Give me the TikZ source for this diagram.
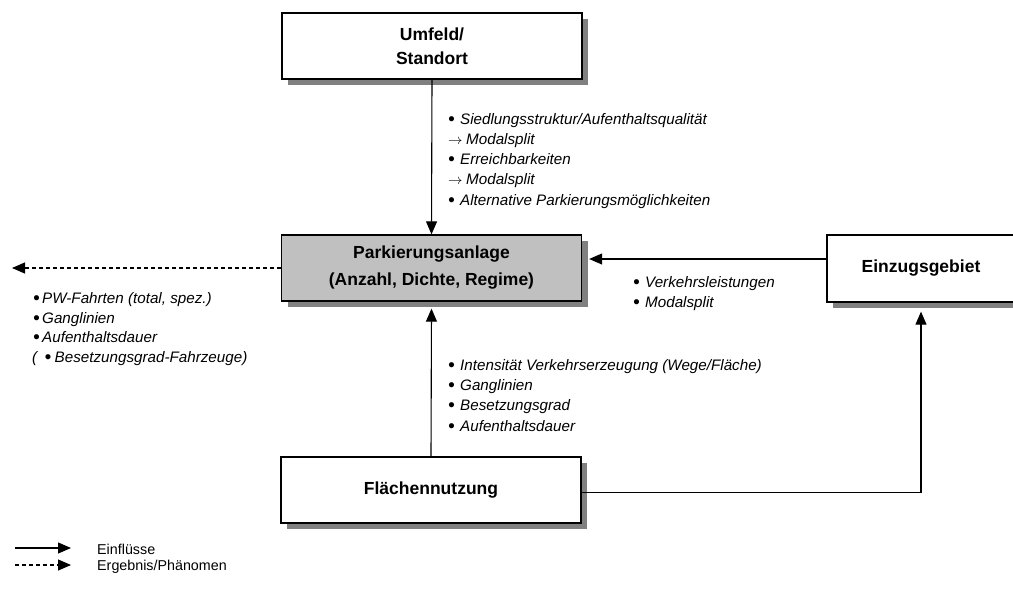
\documentclass[tikz,border=0pt]{standalone}
\usepackage{fontspec}
\setmainfont{Liberation Sans}
\usetikzlibrary{arrows.meta,shadows}
\definecolor{boxgray}{HTML}{C0C0C0}
\definecolor{shadowgray}{HTML}{808080}
\newcommand\bigbul{\raisebox{-0.08em}{\scalebox{1.25}{•}}}
\newcommand\bul{\makebox[12pt][l]{\bigbul}}
\newcommand\bulL{\makebox[9pt][l]{\bigbul}}
\newcommand\arr{\makebox[18pt][l]{$\rightarrow$}}
\tikzset{
  box/.style={draw=black, line width=1.3pt, fill=white, minimum width=300pt, minimum height=66pt,
    align=center, inner sep=0pt, font=\fontsize{17.5}{23.5}\selectfont\bfseries,
    drop shadow={shadow xshift=6pt, shadow yshift=-6pt, fill=shadowgray, opacity=1}},
  lbl/.style={anchor=base west, inner sep=0pt, font=\fontsize{15.2}{18}\selectfont\itshape},
  leg/.style={anchor=west, inner sep=0pt, font=\fontsize{14.3}{17}\selectfont},
  conn/.style={line width=1.1pt, -{Triangle[length=13pt,width=11pt]}},
  dconn/.style={conn, dash pattern=on 4pt off 3pt},
}
\begin{document}
\begin{tikzpicture}[x=1pt,y=-1pt]
\useasboundingbox (0,0) rectangle (1013,590);
\begin{scope}
\clip (0,0) rectangle (1013,590);
\node[box] (umfeld) at (432,46) {Umfeld/\\Standort};
\node[box, fill=boxgray, font=\fontsize{17.5}{27}\selectfont\bfseries] (park) at (431.5,268) {Parkierungsanlage\\(Anzahl, Dichte, Regime)};
\node[box, minimum width=188pt, minimum height=67pt] (einz) at (921,268.5) {Einzugsgebiet};
\node[box] (flaech) at (431,490) {Flächennutzung};
\end{scope}

% connectors
\draw[conn] (umfeld.south) -- (park.north);
\draw[conn] (flaech.north) -- ([yshift=-7pt]park.south);
\draw[conn] ([yshift=9.5pt]einz.west) -- ([xshift=7pt,yshift=9pt]park.east);
\draw[conn] ([yshift=-2.5pt]flaech.east) -| ([yshift=-9pt]einz.south);
\coordinate (dashend) at (12,268);
\draw[dconn] (park.west) -- (dashend);

% labels top
\node[lbl] (u1) at (448,124) {\bul Siedlungsstruktur/Aufenthaltsqualität};
\node[lbl] (u2) at (448,144.25) {\arr Modalsplit};
\node[lbl] (u3) at (448,164.5) {\bul Erreichbarkeiten};
\node[lbl] (u4) at (448,184.75) {\arr Modalsplit};
\node[lbl] (u5) at (448,205) {\bul Alternative Parkierungsmöglichkeiten};

% labels left
\node[lbl] (l1) at (33,303) {\bulL PW-Fahrten (total, spez.)};
\node[lbl] (l2) at (33,323) {\bulL Ganglinien};
\node[lbl] (l3) at (33,342.5) {\bulL Aufenthaltsdauer};
\node[lbl] (l4) at (32,362) {\makebox[12.5pt][l]{(}\makebox[10pt][l]{\bigbul}Besetzungsgrad-Fahrzeuge)};

% labels right
\node[lbl] (e1) at (633,287) {\bul Verkehrsleistungen};
\node[lbl] (e2) at (633,307) {\bul Modalsplit};

% labels bottom
\node[lbl] (b1) at (448,370) {\bul Intensität Verkehrserzeugung (Wege/Fläche)};
\node[lbl] (b2) at (448,390) {\bul Ganglinien};
\node[lbl] (b3) at (448,410.5) {\bul Besetzungsgrad};
\node[lbl] (b4) at (448,431) {\bul Aufenthaltsdauer};

% legend
\coordinate (la1) at (15,548);
\coordinate (lb1) at (71,548);
\coordinate (la2) at (15,565);
\coordinate (lb2) at (71,565);
\draw[conn] (la1) -- (lb1);
\draw[dconn] (la2) -- (lb2);
\node[leg] (g1) at (97,549) {Einflüsse};
\node[leg] (g2) at (97,567) {Ergebnis/Phänomen};
\end{tikzpicture}
\end{document}
